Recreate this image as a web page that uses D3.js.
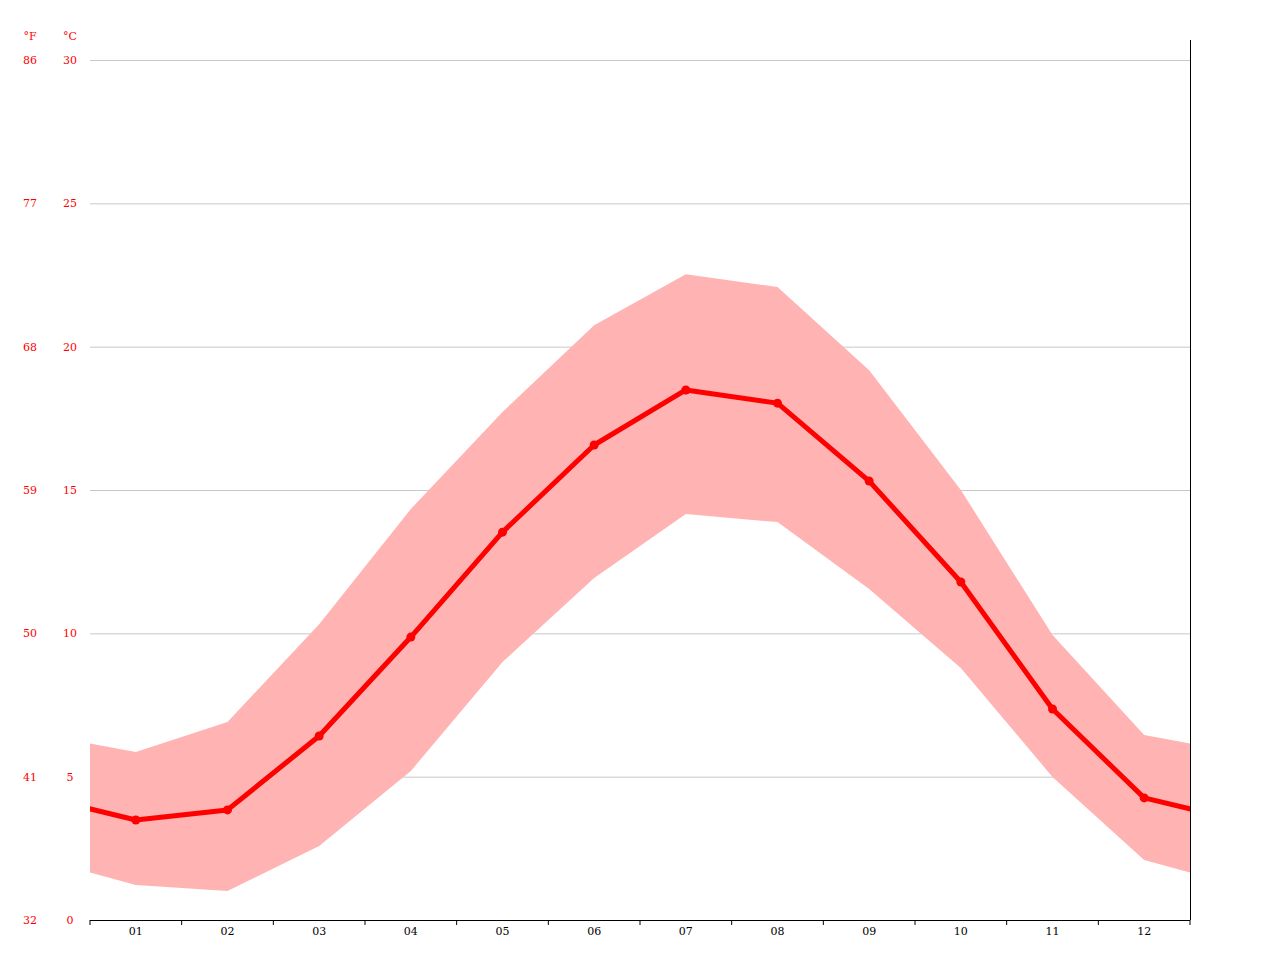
<!DOCTYPE html>
<html>
<head>
<meta charset="utf-8">
<script src="https://cdn.jsdelivr.net/npm/d3@7"></script>
<style>
  body { margin: 0; background: #fff; }
  text { font-family: "DejaVu Serif", serif; font-size: 11px; }
</style>
</head>
<body>
<svg id="chart" width="1280" height="960"></svg>
<script>
var months = ["01","02","03","04","05","06","07","08","09","10","11","12"]
var tMean = [3.49, 3.84, 6.42, 9.87, 13.53, 16.57, 18.49, 18.03, 15.31, 11.79, 7.36, 4.26]
var tMax = [5.86, 6.91, 10.32, 14.34, 17.72, 20.75, 22.53, 22.08, 19.18, 15.0, 9.94, 6.45]
var tMin = [1.22, 1.01, 2.58, 5.2, 9.0, 11.93, 14.16, 13.88, 11.55, 8.79, 4.99, 2.09]
var cTicks = [0, 5, 10, 15, 20, 25, 30]

var svg = d3.select('#chart')
var plotL = 90, plotR = 1190, plotT = 60, plotB = 920
var x = d3.scaleLinear().domain([0, 12]).range([plotL, plotR])
var y = d3.scaleLinear().domain([0, 30]).range([plotB, plotT])

// wrap December/January around so the lines reach the plot edges
function wrap(arr) {
  var pts = arr.map(function(v, i) { return [i + 0.5, v] })
  return [[-0.5, arr[11]]].concat(pts, [[12.5, arr[0]]])
}

svg.append('clipPath').attr('id', 'clip').append('rect')
  .attr('x', plotL).attr('y', 0).attr('width', plotR - plotL).attr('height', plotB)

// grid
svg.selectAll('.grid').data(cTicks.filter(function(d) { return d > 0 })).enter().append('line')
  .attr('x1', plotL).attr('x2', plotR)
  .attr('y1', function(d) { return y(d) + 0.5 }).attr('y2', function(d) { return y(d) + 0.5 })
  .attr('stroke', '#c8c8c8').attr('stroke-width', 1)

var g = svg.append('g').attr('clip-path', 'url(#clip)')
var wMax = wrap(tMax), wMin = wrap(tMin)
var band = wMax.map(function(p, i) { return {x: p[0], hi: p[1], lo: wMin[i][1]} })
g.append('path').datum(band)
  .attr('fill', '#ffb3b3')
  .attr('d', d3.area().x(function(d) { return x(d.x) }).y0(function(d) { return y(d.lo) }).y1(function(d) { return y(d.hi) }))
g.append('path').datum(wrap(tMean))
  .attr('fill', 'none').attr('stroke', '#ff0000').attr('stroke-width', 5).attr('stroke-linejoin', 'round')
  .attr('d', d3.line().x(function(d) { return x(d[0]) }).y(function(d) { return y(d[1]) }))
svg.selectAll('.dot').data(tMean).enter().append('circle')
  .attr('cx', function(d, i) { return x(i + 0.5) }).attr('cy', function(d) { return y(d) })
  .attr('r', 4.5).attr('fill', '#ff0000')

// axes
svg.append('line').attr('x1', plotL).attr('x2', plotR).attr('y1', plotB + 0.5).attr('y2', plotB + 0.5).attr('stroke', '#000')
svg.append('line').attr('x1', plotR + 0.5).attr('x2', plotR + 0.5).attr('y1', 40).attr('y2', plotB).attr('stroke', '#000')
svg.selectAll('.tick').data(d3.range(13)).enter().append('line')
  .attr('x1', function(d) { return x(d) }).attr('x2', function(d) { return x(d) })
  .attr('y1', plotB).attr('y2', plotB + 5).attr('stroke', '#000')
svg.selectAll('.mlab').data(months).enter().append('text')
  .attr('x', function(d, i) { return x(i + 0.5) }).attr('y', plotB + 15)
  .attr('text-anchor', 'middle').attr('fill', '#000').text(function(d) { return d })

svg.selectAll('.clab').data(cTicks).enter().append('text')
  .attr('x', 70).attr('y', function(d) { return y(d) + 4 })
  .attr('text-anchor', 'middle').attr('fill', '#ff0000').text(function(d) { return d })
svg.selectAll('.flab').data(cTicks).enter().append('text')
  .attr('x', 30).attr('y', function(d) { return y(d) + 4 })
  .attr('text-anchor', 'middle').attr('fill', '#ff0000').text(function(d) { return Math.round(d * 9 / 5 + 32) })
svg.append('text').attr('x', 30).attr('y', 40).attr('text-anchor', 'middle').attr('fill', '#ff0000').text('°F')
svg.append('text').attr('x', 70).attr('y', 40).attr('text-anchor', 'middle').attr('fill', '#ff0000').text('°C')
</script>
</body>
</html>
